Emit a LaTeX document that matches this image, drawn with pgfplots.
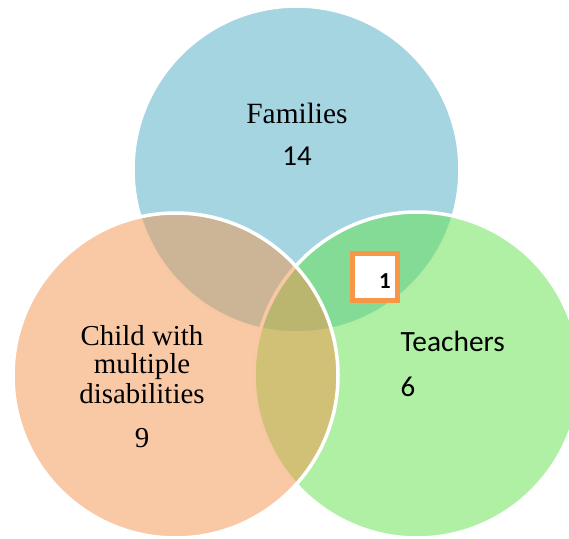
\documentclass[border=0pt]{standalone}
\usepackage{pgfplots}
\pgfplotsset{compat=1.18}
\usepackage{fontspec}
\setmainfont{Liberation Serif}
\newfontfamily\sans{Carlito}
\definecolor{bluec}{RGB}{77,171,197}
\definecolor{greenc}{RGB}{97,225,73}
\definecolor{orangec}{RGB}{243,147,75}
\definecolor{boxorange}{RGB}{247,150,70}
\begin{document}
\begin{tikzpicture}
\begin{axis}[
  width=569bp, height=539bp, scale only axis,
  xmin=0, xmax=569, ymin=0, ymax=539, y dir=reverse,
  axis lines=box, ticks=none, axis line style={draw=none},
  clip marker paths=true,
]
% Families
\addplot[only marks, mark=*, mark size=163.5bp,
  mark options={fill=bluec, fill opacity=0.5, draw=white, draw opacity=1, line width=3.5bp}]
  coordinates {(296.5,169.5)};
% Teachers
\addplot[only marks, mark=*, mark size=163bp,
  mark options={fill=greenc, fill opacity=0.5, draw=white, draw opacity=1, line width=3.5bp}]
  coordinates {(417,375)};
% Child with multiple disabilities
\addplot[only marks, mark=*, mark size=162.5bp,
  mark options={fill=orangec, fill opacity=0.5, draw=white, draw opacity=1, line width=3.5bp}]
  coordinates {(175.5,375.5)};

\node[anchor=base, inner sep=0pt, font=\fontsize{29.5}{30}\selectfont] at (axis cs:297,123.3) {Families};
\node[anchor=base, inner sep=0pt, font=\sans\fontsize{29}{30}\selectfont] at (axis cs:297,165) {14};
\node[anchor=base, inner sep=0pt, font=\fontsize{29}{30}\selectfont] at (axis cs:142,345) {Child with};
\node[anchor=base, inner sep=0pt, font=\fontsize{29}{30}\selectfont] at (axis cs:142,373) {multiple};
\node[anchor=base, inner sep=0pt, font=\fontsize{29}{30}\selectfont] at (axis cs:142,403) {disabilities};
\node[anchor=base, inner sep=0pt, font=\fontsize{29}{30}\selectfont] at (axis cs:142,447) {9};
\node[anchor=base west, inner sep=0pt, font=\sans\fontsize{29.5}{30}\selectfont] at (axis cs:400.5,351.7) {Teachers};
\node[anchor=base west, inner sep=0pt, font=\sans\fontsize{29}{30}\selectfont] at (axis cs:400.5,396.7) {6};
\node[draw=boxorange, line width=5bp, fill=white, minimum width=45bp, minimum height=47bp, inner sep=0pt] at (axis cs:375,276.5) {};
\node[anchor=base, inner sep=0pt, font=\sans\bfseries\fontsize{23}{24}\selectfont] at (axis cs:385,288.3) {1};
\end{axis}
\end{tikzpicture}
\end{document}
